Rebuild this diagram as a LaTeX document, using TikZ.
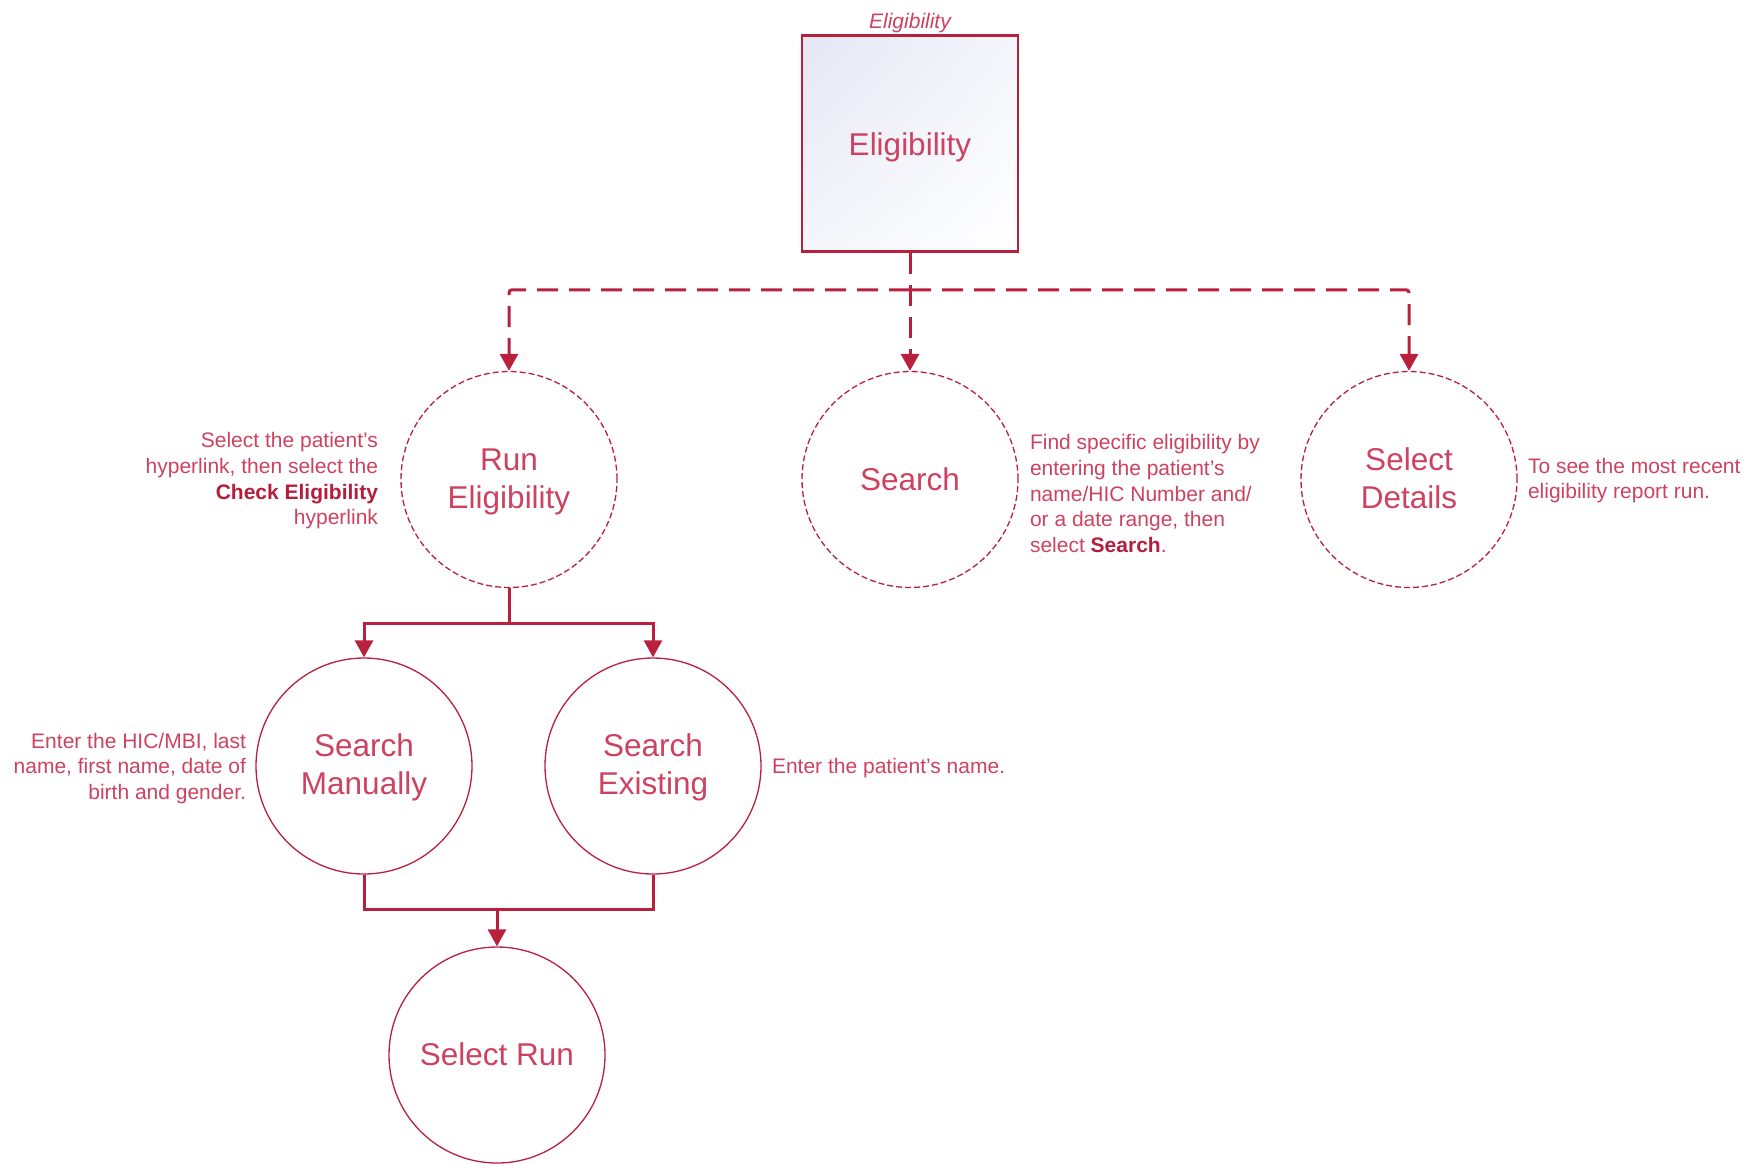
\documentclass[tikz,border=0pt]{standalone}
\usepackage{fontspec}
\setmainfont{Liberation Sans}
\usetikzlibrary{arrows.meta,calc,shadings}
\definecolor{lineRed}{RGB}{185,32,62}
\definecolor{textRed}{RGB}{204,66,96}
\definecolor{boldRed}{RGB}{180,30,60}
\definecolor{lavender}{RGB}{228,231,243}
\definecolor{paleLav}{RGB}{245,246,251}
\begin{document}
\begin{tikzpicture}[x=1pt,y=-1pt,
  every node/.style={text=textRed},
  stage/.style={circle,draw=lineRed,line width=1.3pt,minimum size=216pt,inner sep=0pt},
  optstage/.style={stage,dash pattern=on 6pt off 3pt},
  label/.style={align=center,font=\fontsize{31.5}{38}\selectfont},
  note/.style={font=\fontsize{21}{25.7}\selectfont},
  tip/.style={-{Triangle[width=18pt,length=17pt]}},
  dcon/.style={draw=lineRed,line width=3pt,dash pattern=on 21pt off 11pt,rounded corners=3pt},
  scon/.style={draw=lineRed,line width=3pt},
]
\useasboundingbox (0,0) rectangle (1758,1163);

% top-level screen
\node[draw=lineRed,line width=2.5pt,minimum size=216pt,inner sep=0pt,
  upper left=lavender,upper right=paleLav,lower left=paleLav,lower right=white] (box) at (910,143.5) {};
\node[label] (boxlabel) at (910,147) {Eligibility};
\node[font=\fontsize{21}{25}\selectfont\itshape] (title) at (910,23) {Eligibility};

% optional paths
\node[optstage] (run) at (509,479.5) {};
\node[optstage] (search) at (910,479.5) {};
\node[optstage] (details) at (1409,479.5) {};
\node[label] (runlabel) at (509,482) {Run\\Eligibility};
\node[label] (searchlabel) at (910,479) {Search};
\node[label] (detailslabel) at (1409,478.5) {Select\\Details};

% run eligibility branch
\node[stage] (man) at (364,766) {};
\node[stage] (exist) at (653,766) {};
\node[stage] (selrun) at (497,1055) {};
\node[label] (manlabel) at (364,767) {Search\\Manually};
\node[label] (existlabel) at (653,767) {Search\\Existing};
\node[label] (selrunlabel) at (497,1054) {Select Run};

% descriptions
\node[note,align=right,anchor=east] (runnote) at (381.5,481)
  {Select the patient’s\\hyperlink, then select the\\{\color{boldRed}\bfseries Check Eligibility}\\hyperlink};
\node[note,align=left,anchor=west] (searchnote) at (1026.5,493.5)
  {Find specific eligibility by\\entering the patient’s\\name/HIC Number and/\\or a date range, then\\select {\color{boldRed}\bfseries Search}.};
\node[note,align=left,anchor=west] (detailsnote) at (1524.5,480.5)
  {To see the most recent\\eligibility report run.};
\node[note,align=right,anchor=east] (mannote) at (249.5,768.5)
  {Enter the HIC/MBI, last\\name, first name, date of\\birth and gender.};
\node[note,align=left,anchor=west] (existnote) at (768.5,768.5)
  {Enter the patient’s name.};

% dashed connectors from the top screen
\coordinate (hub) at ($(box.south)+(0,37)$);
\draw[dcon,tip] (box.south) -- (search.north);
\draw[dcon,tip] (hub) -| (run.north);
\draw[dcon,tip] (hub) -| (details.north);

% solid connectors
\coordinate (split) at ($(run.south)+(0,35)$);
\draw[scon] (run.south) -- (split);
\draw[scon,tip] (split) -| (man.north);
\draw[scon,tip] (split) -| (exist.north);

\coordinate (join) at ($(selrun.north)+(0,-37)$);
\draw[scon] (man.south) |- (join);
\draw[scon] (exist.south) |- (join);
\draw[scon,tip] (join) -- (selrun.north);
\end{tikzpicture}
\end{document}
